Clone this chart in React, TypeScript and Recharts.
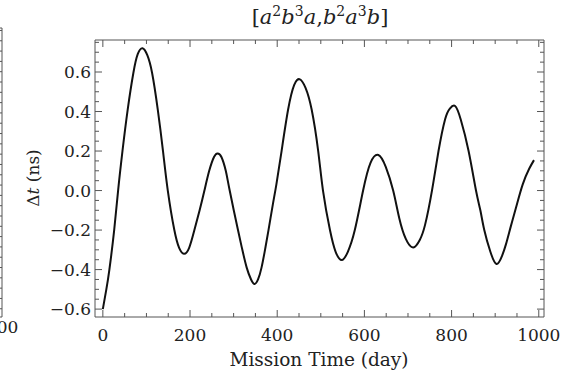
import React from "react";
import { LineChart, Line, XAxis, YAxis } from "recharts";

// mission time (day) and Δt (ns)
const days = [
  0, 8, 15, 26, 35, 45, 57, 70, 80, 91,
  102, 113, 126, 138, 149, 164, 175, 186, 198, 210,
  222, 233, 244, 255, 263, 272, 282, 291, 310, 320,
  330, 340, 348, 356, 364, 372, 380, 390, 398, 410,
  425, 439, 452, 465, 479, 494, 505, 521, 534, 548,
  562, 578, 597, 614, 632, 649, 666, 680, 695, 712,
  727, 739, 755, 770, 785, 796, 808, 821, 839, 856,
  866, 875, 889, 903, 915, 925, 936, 948, 963, 978,
  989,
];
const dt = [
  -0.6, -0.5, -0.4, -0.2, 0, 0.2, 0.41, 0.595, 0.69, 0.72,
  0.685, 0.595, 0.41, 0.2, 0, -0.2, -0.29, -0.32, -0.29, -0.2,
  -0.1, 0, 0.1, 0.17, 0.188, 0.17, 0.1, 0, -0.2, -0.3,
  -0.39, -0.45, -0.473, -0.45, -0.39, -0.3, -0.2, -0.07, 0.03, 0.2,
  0.41, 0.535, 0.563, 0.52, 0.41, 0.2, 0, -0.2, -0.31, -0.352,
  -0.31, -0.2, 0, 0.14, 0.18, 0.12, 0, -0.14, -0.245, -0.288,
  -0.25, -0.175, 0, 0.2, 0.36, 0.415, 0.428, 0.36, 0.2, 0,
  -0.1, -0.2, -0.31, -0.372, -0.335, -0.27, -0.18, -0.085, 0.03, 0.11,
  0.154,
];

const xTicks = [0, 50, 100, 150, 200, 250, 300, 350, 400, 450, 500, 550, 600, 650, 700, 750, 800, 850, 900, 950, 1000];
const xLabelTicks = [0, 200, 400, 600, 800, 1000];
const yTicks = [
  -0.6, -0.55, -0.5, -0.45, -0.4, -0.35, -0.3, -0.25, -0.2, -0.15, -0.1, -0.05, 0,
  0.05, 0.1, 0.15, 0.2, 0.25, 0.3, 0.35, 0.4, 0.45, 0.5, 0.55, 0.6, 0.65, 0.7, 0.75,
];
const yLabelTicks = [-0.6, -0.4, -0.2, 0, 0.2, 0.4, 0.6];

const data = days.map((d, i) => ({ day: d, dt: dt[i] }));

const FRAME = "#555";
const FONT = "'DejaVu Serif', serif";
const TEXT = "#222";
const X_DOMAIN = [-18, 1012];
const Y_DOMAIN = [-0.64, 0.762];

const isMajor = (v: number, list: number[]) => list.some((m) => Math.abs(m - v) < 1e-6);
const fmtY = (v: number) => (Math.abs(v) < 1e-9 ? "0.0" : v.toFixed(1).replace("-", "\u2212"));

function BottomTick(props: any) {
  const { x, y, payload } = props;
  const major = isMajor(payload.value, xLabelTicks);
  return (
    <g>
      <line x1={x} x2={x} y1={y} y2={y - (major ? 7 : 4)} stroke={FRAME} />
      {major && (
        <text x={x} y={y + 24} textAnchor="middle" fontFamily={FONT} fontSize={17} fill={TEXT}>
          {payload.value}
        </text>
      )}
    </g>
  );
}

// neighbouring panel: only its last label peeks in at the left border
function GhostBottomTick(props: any) {
  const { x, y, payload } = props;
  if (payload.value !== 1000) return <g />;
  return (
    <text x={x} y={y + 16} textAnchor="middle" fontFamily={FONT} fontSize={17} fill={TEXT}>
      {payload.value}
    </text>
  );
}

function TopTick(props: any) {
  const { x, y, payload } = props;
  const major = isMajor(payload.value, xLabelTicks);
  return <line x1={x} x2={x} y1={y} y2={y + (major ? 7 : 4)} stroke={FRAME} />;
}

function LeftTick(props: any) {
  const { x, y, payload } = props;
  const major = isMajor(payload.value, yLabelTicks);
  return (
    <g>
      <line x1={x} x2={x + (major ? 7 : 4)} y1={y} y2={y} stroke={FRAME} />
      {major && (
        <text x={x - 4} y={y + 6} textAnchor="end" fontFamily={FONT} fontSize={17} fill={TEXT}>
          {fmtY(payload.value)}
        </text>
      )}
    </g>
  );
}

function RightTick(props: any) {
  const { x, y, payload } = props;
  const major = isMajor(payload.value, yLabelTicks);
  return <line x1={x} x2={x - (major ? 7 : 4)} y1={y} y2={y} stroke={FRAME} />;
}

// the four framed axes; `top` is the frame's top edge
function Frame({ top, ghost }: { top: number; ghost?: boolean }) {
  return (
    <LineChart width={568} height={383} data={data} margin={{ top: top - 1, right: 23, bottom: 0, left: 0 }}>
      <XAxis
        xAxisId="b"
        dataKey="day"
        type="number"
        domain={X_DOMAIN}
        ticks={xTicks}
        allowDataOverflow
        interval={0}
        height={66}
        tickSize={0}
        tickMargin={0}
        tickLine={false}
        tick={ghost ? <GhostBottomTick /> : <BottomTick />}
        axisLine={{ stroke: FRAME }}
      />
      <XAxis
        xAxisId="t"
        dataKey="day"
        orientation="top"
        type="number"
        domain={X_DOMAIN}
        ticks={xTicks}
        allowDataOverflow
        interval={0}
        height={1}
        tickSize={0}
        tickMargin={0}
        tickLine={false}
        tick={ghost ? false : <TopTick />}
        axisLine={{ stroke: FRAME }}
      />
      <YAxis
        yAxisId="l"
        type="number"
        domain={Y_DOMAIN}
        ticks={yTicks}
        allowDataOverflow
        interval={0}
        width={95}
        tickSize={0}
        tickMargin={0}
        tickLine={false}
        tick={ghost ? false : <LeftTick />}
        axisLine={{ stroke: FRAME }}
      />
      <YAxis
        yAxisId="r"
        orientation="right"
        type="number"
        domain={Y_DOMAIN}
        ticks={yTicks}
        allowDataOverflow
        interval={0}
        width={1}
        tickSize={0}
        tickMargin={0}
        tickLine={false}
        tick={<RightTick />}
        axisLine={{ stroke: FRAME }}
      />
      {/* binds the top/right axes so they are drawn */}
      <Line
        xAxisId="t"
        yAxisId="r"
        dataKey="dt"
        stroke="none"
        dot={false}
        activeDot={false}
        isAnimationActive={false}
      />
      <Line
        xAxisId="b"
        yAxisId="l"
        type="natural"
        dataKey="dt"
        stroke={ghost ? "none" : "#111"}
        strokeWidth={2}
        dot={false}
        activeDot={false}
        isAnimationActive={false}
      />
    </LineChart>
  );
}

export default function App() {
  return (
    <div style={{ position: "absolute", left: 0, top: 0, width: 568, height: 383, overflow: "hidden", background: "#fff" }}>
      {/* right edge of the neighbouring panel, cut off by the image border */}
      <div style={{ position: "absolute", left: -542, top: 0 }}>
        <Frame top={28} ghost />
      </div>

      <div style={{ position: "absolute", left: 0, top: 0 }}>
        <Frame top={40} />
      </div>

      <svg width={568} height={383} style={{ position: "absolute", left: 0, top: 0, pointerEvents: "none" }}>
        <text x={320} y={24} textAnchor="middle" fontFamily={FONT} fontSize={21} fill={TEXT}>
          <tspan>[</tspan>
          <tspan fontStyle="italic">a</tspan>
          <tspan dy={-8} fontSize={14}>2</tspan>
          <tspan dy={8} fontStyle="italic">b</tspan>
          <tspan dy={-8} fontSize={14}>3</tspan>
          <tspan dy={8} fontStyle="italic">a</tspan>
          <tspan>,</tspan>
          <tspan fontStyle="italic">b</tspan>
          <tspan dy={-8} fontSize={14}>2</tspan>
          <tspan dy={8} fontStyle="italic">a</tspan>
          <tspan dy={-8} fontSize={14}>3</tspan>
          <tspan dy={8} fontStyle="italic">b</tspan>
          <tspan>]</tspan>
        </text>
        <text x={319} y={366} textAnchor="middle" fontFamily={FONT} fontSize={18.5} fill={TEXT}>
          Mission Time (day)
        </text>
        <text
          x={0}
          y={0}
          transform="translate(39,178) rotate(-90)"
          textAnchor="middle"
          fontFamily={FONT}
          fontSize={17}
          fill={TEXT}
        >
          <tspan>Δ</tspan>
          <tspan fontStyle="italic">t</tspan>
          <tspan> (ns)</tspan>
        </text>
      </svg>
    </div>
  );
}
